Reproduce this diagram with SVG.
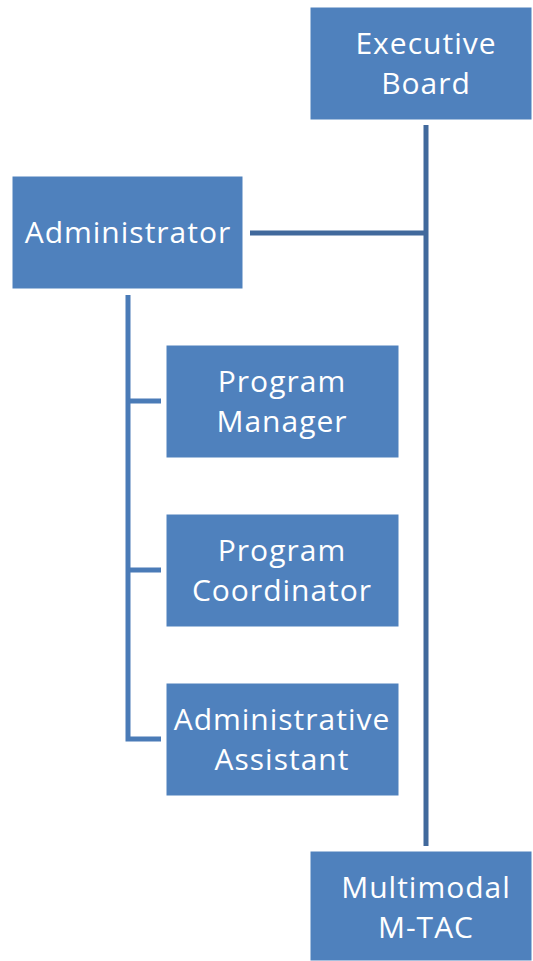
<svg xmlns="http://www.w3.org/2000/svg" width="533" height="961" viewBox="0 0 533 961">
<style>
.box{fill:#4f81bd;stroke:#ffffff;stroke-width:1}
.t{font-family:"Open Sans","Liberation Sans",sans-serif;font-size:30px;letter-spacing:1px;fill:#ffffff;text-anchor:middle}
.c1{stroke:#41699c;stroke-width:5;fill:none}
.c2{stroke:#4a7bb7;stroke-width:5;fill:none}
</style>
<rect width="533" height="961" fill="#ffffff"/>
<g id="connectors">
<line class="c1" x1="426" y1="125" x2="426" y2="846"/>
<line class="c1" x1="250" y1="233" x2="426" y2="233"/>
<polyline class="c2" points="128,295 128,739 161,739"/>
<line class="c2" x1="128" y1="401" x2="161" y2="401"/>
<line class="c2" x1="128" y1="570" x2="161" y2="570"/>
</g>
<g id="executive-board">
<rect class="box" x="310" y="7" width="222" height="113"/>
<text class="t" x="426" y="54">Executive</text>
<text class="t" x="426" y="94">Board</text>
</g>
<g id="administrator">
<rect class="box" x="12" y="176" width="231" height="113"/>
<text class="t" x="128" y="243">Administrator</text>
</g>
<g id="program-manager">
<rect class="box" x="166" y="345" width="233" height="113"/>
<text class="t" x="282" y="392">Program</text>
<text class="t" x="282" y="432">Manager</text>
</g>
<g id="program-coordinator">
<rect class="box" x="166" y="514" width="233" height="113"/>
<text class="t" x="282" y="561">Program</text>
<text class="t" x="282" y="601">Coordinator</text>
</g>
<g id="administrative-assistant">
<rect class="box" x="166" y="683" width="233" height="113"/>
<text class="t" x="282" y="730">Administrative</text>
<text class="t" x="282" y="770">Assistant</text>
</g>
<g id="multimodal-mtac">
<rect class="box" x="310" y="851" width="222" height="110"/>
<text class="t" x="426" y="898">Multimodal</text>
<text class="t" x="426" y="938">M-TAC</text>
</g>
</svg>
